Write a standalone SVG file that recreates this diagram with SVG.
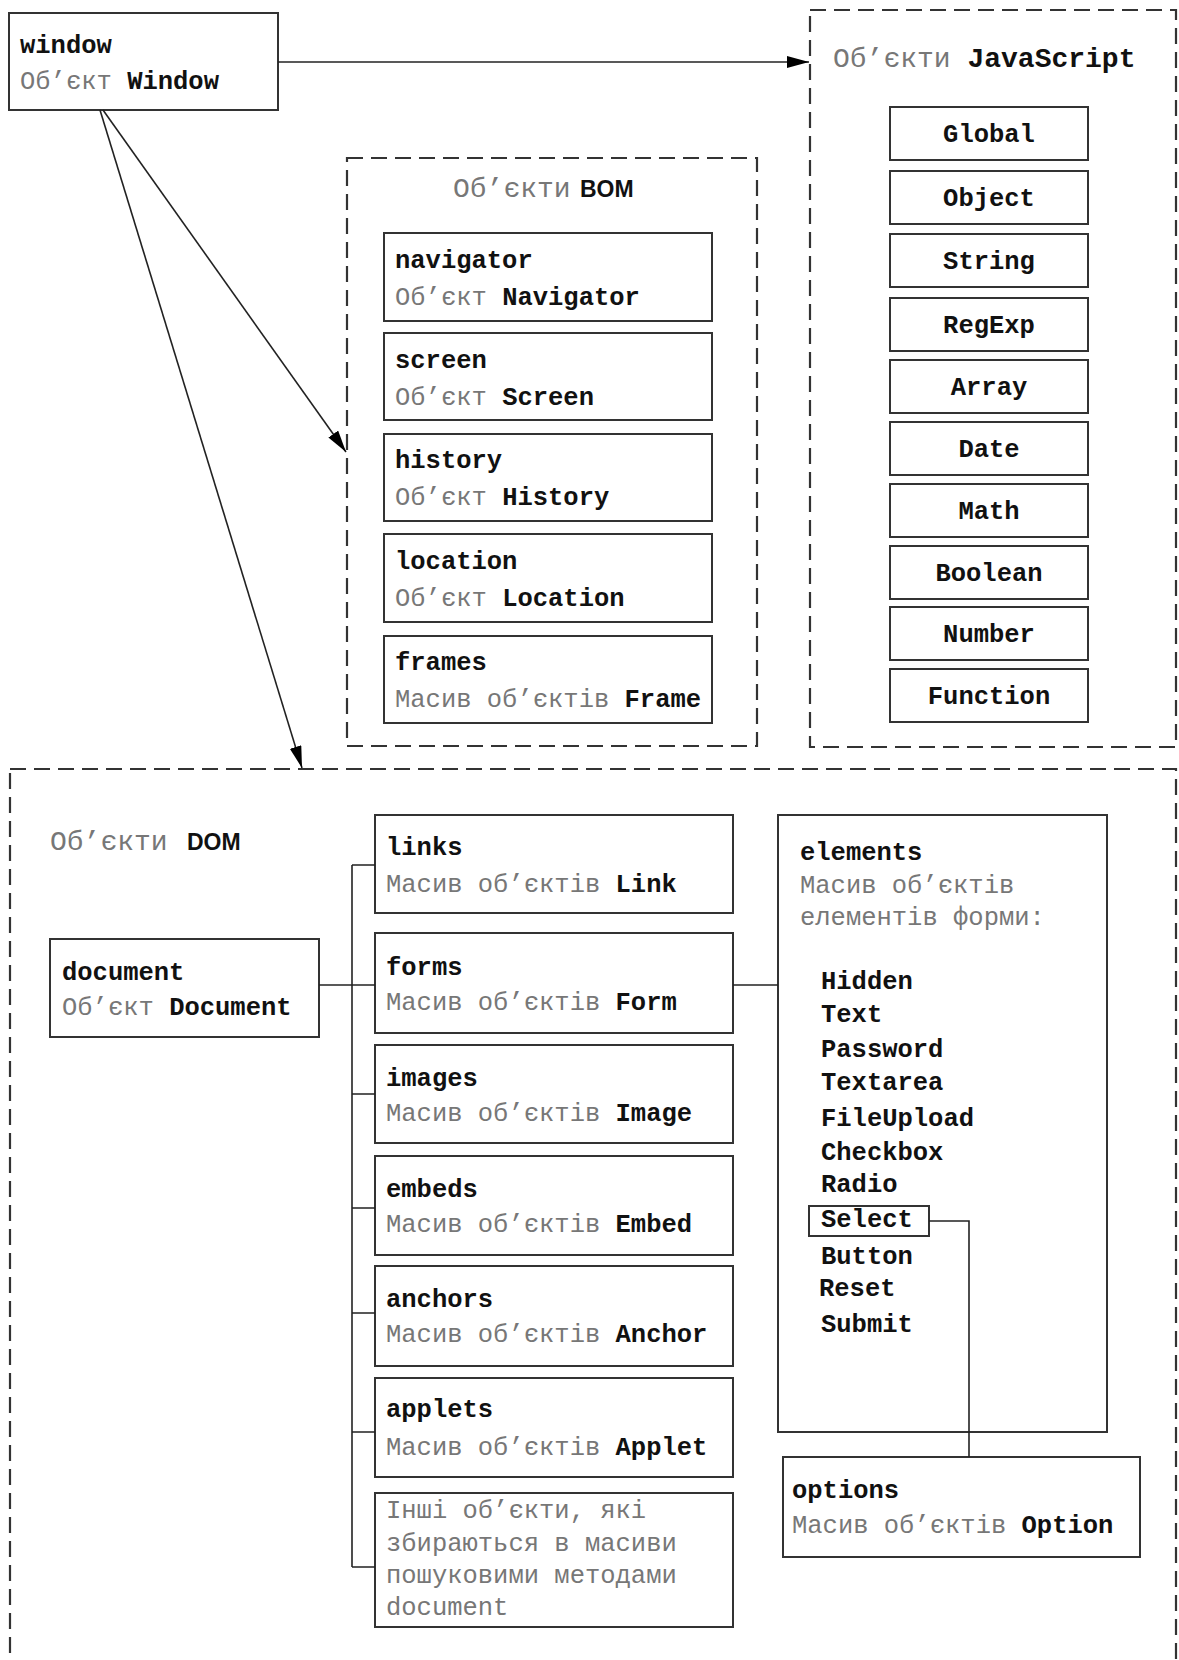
<svg xmlns="http://www.w3.org/2000/svg" width="1179" height="1660" viewBox="0 0 1179 1660">
<defs>
<style>
.bx{fill:#fff;stroke:#333;stroke-width:2}
.dash{fill:none;stroke:#333;stroke-width:2.2;stroke-dasharray:16 8}
.ln{fill:none;stroke:#222;stroke-width:1.6}
text{font-family:"Liberation Mono","Courier New",monospace;font-size:25.5px}
.b{font-weight:bold;fill:#111}
.g{fill:#777}
.c{text-anchor:middle}
.s{font-family:"Liberation Sans",Arial,sans-serif;font-weight:bold;font-size:23px;fill:#111}
.h{font-size:28px}
</style>
<marker id="arr" markerWidth="22" markerHeight="12" refX="22" refY="6" orient="auto" markerUnits="userSpaceOnUse"><path d="M0,0 L22,6 L0,12 z" fill="#000"/></marker>
</defs>
<rect width="1179" height="1660" fill="#fff"/>

<g id="js-group">
<rect class="dash" x="810" y="10" width="366" height="737"/>
<text class="h" x="833" y="67"><tspan class="g">Об’єкти </tspan><tspan class="b">JavaScript</tspan></text>
</g>
<g id="bom-group">
<rect class="dash" x="347" y="158" width="410" height="588"/>
<text class="h g" x="453" y="197">Об’єкти</text><text class="s" x="580" y="197">BOM</text>
</g>
<g id="dom-group">
<rect class="dash" x="10" y="769" width="1166" height="920"/>
<text class="h g" x="50" y="850">Об’єкти</text><text class="s" x="187" y="850">DOM</text>
</g>

<g id="window"><rect class="bx" x="9" y="13" width="269" height="97"/>
<text class="b" x="20" y="53">window</text>
<text x="20" y="89"><tspan class="g">Об’єкт </tspan><tspan class="b">Window</tspan></text></g>

<g id="js-global"><rect class="bx" x="890" y="107" width="198" height="53"/><text class="b c" x="989" y="142">Global</text></g>
<g id="js-object"><rect class="bx" x="890" y="171" width="198" height="53"/><text class="b c" x="989" y="206">Object</text></g>
<g id="js-string"><rect class="bx" x="890" y="234" width="198" height="53"/><text class="b c" x="989" y="269">String</text></g>
<g id="js-regexp"><rect class="bx" x="890" y="298" width="198" height="53"/><text class="b c" x="989" y="333">RegExp</text></g>
<g id="js-array"><rect class="bx" x="890" y="360" width="198" height="53"/><text class="b c" x="989" y="395">Array</text></g>
<g id="js-date"><rect class="bx" x="890" y="422" width="198" height="53"/><text class="b c" x="989" y="457">Date</text></g>
<g id="js-math"><rect class="bx" x="890" y="484" width="198" height="53"/><text class="b c" x="989" y="519">Math</text></g>
<g id="js-boolean"><rect class="bx" x="890" y="546" width="198" height="53"/><text class="b c" x="989" y="581">Boolean</text></g>
<g id="js-number"><rect class="bx" x="890" y="607" width="198" height="53"/><text class="b c" x="989" y="642">Number</text></g>
<g id="js-function"><rect class="bx" x="890" y="669" width="198" height="53"/><text class="b c" x="989" y="704">Function</text></g>

<g id="navigator"><rect class="bx" x="384" y="233" width="328" height="88"/>
<text class="b" x="395" y="268">navigator</text>
<text x="395" y="305"><tspan class="g">Об’єкт </tspan><tspan class="b">Navigator</tspan></text></g>
<g id="screen"><rect class="bx" x="384" y="333" width="328" height="87"/>
<text class="b" x="395" y="368">screen</text>
<text x="395" y="405"><tspan class="g">Об’єкт </tspan><tspan class="b">Screen</tspan></text></g>
<g id="history"><rect class="bx" x="384" y="434" width="328" height="87"/>
<text class="b" x="395" y="468">history</text>
<text x="395" y="505"><tspan class="g">Об’єкт </tspan><tspan class="b">History</tspan></text></g>
<g id="location"><rect class="bx" x="384" y="534" width="328" height="88"/>
<text class="b" x="395" y="569">location</text>
<text x="395" y="606"><tspan class="g">Об’єкт </tspan><tspan class="b">Location</tspan></text></g>
<g id="frames"><rect class="bx" x="384" y="636" width="328" height="87"/>
<text class="b" x="395" y="670">frames</text>
<text x="395" y="707"><tspan class="g">Масив об’єктів </tspan><tspan class="b">Frame</tspan></text></g>

<g id="document"><rect class="bx" x="50" y="939" width="269" height="98"/>
<text class="b" x="62" y="980">document</text>
<text x="62" y="1015"><tspan class="g">Об’єкт </tspan><tspan class="b">Document</tspan></text></g>

<g id="links"><rect class="bx" x="375" y="815" width="358" height="98"/>
<text class="b" x="386" y="855">links</text>
<text x="386" y="892"><tspan class="g">Масив об’єктів </tspan><tspan class="b">Link</tspan></text></g>
<g id="forms"><rect class="bx" x="375" y="933" width="358" height="100"/>
<text class="b" x="386" y="975">forms</text>
<text x="386" y="1010"><tspan class="g">Масив об’єктів </tspan><tspan class="b">Form</tspan></text></g>
<g id="images"><rect class="bx" x="375" y="1045" width="358" height="98"/>
<text class="b" x="386" y="1086">images</text>
<text x="386" y="1121"><tspan class="g">Масив об’єктів </tspan><tspan class="b">Image</tspan></text></g>
<g id="embeds"><rect class="bx" x="375" y="1156" width="358" height="99"/>
<text class="b" x="386" y="1197">embeds</text>
<text x="386" y="1232"><tspan class="g">Масив об’єктів </tspan><tspan class="b">Embed</tspan></text></g>
<g id="anchors"><rect class="bx" x="375" y="1266" width="358" height="100"/>
<text class="b" x="386" y="1307">anchors</text>
<text x="386" y="1342"><tspan class="g">Масив об’єктів </tspan><tspan class="b">Anchor</tspan></text></g>
<g id="applets"><rect class="bx" x="375" y="1378" width="358" height="99"/>
<text class="b" x="386" y="1417">applets</text>
<text x="386" y="1455"><tspan class="g">Масив об’єктів </tspan><tspan class="b">Applet</tspan></text></g>
<g id="others"><rect class="bx" x="375" y="1493" width="358" height="134"/>
<text class="g" x="386" y="1518">Інші об’єкти, які</text>
<text class="g" x="386" y="1551">збираються в масиви</text>
<text class="g" x="386" y="1583">пошуковими методами</text>
<text class="g" x="386" y="1615">document</text></g>

<g id="elements"><rect class="bx" x="778" y="815" width="329" height="617"/>
<text class="b" x="800" y="860">elements</text>
<text class="g" x="800" y="893">Масив об’єктів</text>
<text class="g" x="800" y="925">елементів форми:</text>
<text class="b" x="821" y="989">Hidden</text>
<text class="b" x="821" y="1022">Text</text>
<text class="b" x="821" y="1057">Password</text>
<text class="b" x="821" y="1090">Textarea</text>
<text class="b" x="821" y="1126">FileUpload</text>
<text class="b" x="821" y="1160">Checkbox</text>
<text class="b" x="821" y="1192">Radio</text>
<text class="b" x="821" y="1264">Button</text>
<text class="b" x="819" y="1296">Reset</text>
<text class="b" x="821" y="1332">Submit</text></g>
<g id="select"><rect class="bx" x="809" y="1206" width="120" height="30"/>
<text class="b" x="821" y="1227">Select</text></g>

<g id="options"><rect class="bx" x="783" y="1457" width="357" height="100"/>
<text class="b" x="792" y="1498">options</text>
<text x="792" y="1533"><tspan class="g">Масив об’єктів </tspan><tspan class="b">Option</tspan></text></g>

<g id="connectors">
<path class="ln" d="M278,62 H809" marker-end="url(#arr)"/>
<path class="ln" d="M103,110 L346,452" marker-end="url(#arr)"/>
<path class="ln" d="M100,110 L302,768" marker-end="url(#arr)"/>
<path class="ln" d="M319,985 H375"/>
<path class="ln" d="M352,865 V1567"/>
<path class="ln" d="M352,865 H375 M352,1094 H375 M352,1208 H375 M352,1313 H375 M352,1432 H375 M352,1567 H375"/>
<path class="ln" d="M733,985 H778"/>
<path class="ln" d="M929,1221 H969 V1457"/>
</g>
</svg>
